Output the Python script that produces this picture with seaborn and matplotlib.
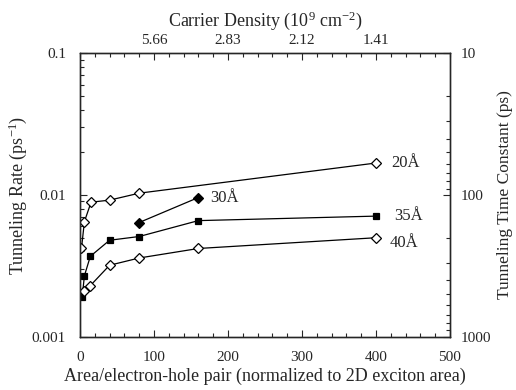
import matplotlib
matplotlib.use("Agg")
import matplotlib.pyplot as plt
import matplotlib.ticker as mticker
import seaborn as sns
import pandas as pd

# ---- data ----
x_20 = [2, 6, 15, 40, 80, 400]
y_20 = [0.0042, 0.0065, 0.0089, 0.0092, 0.0103, 0.0168]
x_35 = [3, 6, 14, 40, 80, 160, 400]
y_35 = [0.00192, 0.0027, 0.0037, 0.0048, 0.0051, 0.0066, 0.0071]
x_30 = [80, 160]
y_30 = [0.0064, 0.0096]
x_40 = [6, 14, 40, 80, 160, 400]
y_40 = [0.0021, 0.0023, 0.0032, 0.0036, 0.0042, 0.0050]

top_tick_pos = [100, 200, 300, 400]
top_tick_labels = ["5.66", "2.83", "2.12", "1.41"]

sns.set_style("ticks")
plt.rcParams['font.family'] = ['Liberation Serif', 'DejaVu Serif']
plt.rcParams['mathtext.fontset'] = 'custom'
plt.rcParams['mathtext.rm'] = 'Liberation Serif'
plt.rcParams['mathtext.it'] = 'Liberation Serif'
plt.rcParams['mathtext.default'] = 'rm'

fig = plt.figure(figsize=(5.16, 3.9), dpi=100)
ax = fig.add_axes([0.155, 0.136, 0.717, 0.728])

def draw(xs, ys, marker, face, size):
    df = pd.DataFrame({"x": xs, "y": ys})
    sns.lineplot(data=df, x="x", y="y", ax=ax, color="black", lw=0.9,
                 marker=marker, markersize=size, markerfacecolor=face,
                 markeredgecolor="black", markeredgewidth=0.9)

draw(x_20, y_20, "D", "white", 5.5)
draw(x_35, y_35, "s", "black", 5)
draw(x_30, y_30, "D", "black", 5.5)
draw(x_40, y_40, "D", "white", 5.5)

ax.set_yscale("log")
ax.set_xlim(0, 500)
ax.set_ylim(0.001, 0.1)
ax.set_xticks([0, 100, 200, 300, 400, 500])
ax.xaxis.set_minor_locator(mticker.MultipleLocator(20))
ax.set_yticks([0.001, 0.01, 0.1])
ax.set_yticklabels(["0.001", "0.01", "0.1"])
ax.yaxis.set_minor_locator(mticker.LogLocator(base=10, subs=range(2, 10)))
ax.yaxis.set_minor_formatter(mticker.NullFormatter())
ax.tick_params(which="both", direction="in", labelsize=11, width=0.8)
ax.tick_params(which="major", length=5)
ax.tick_params(which="minor", length=3)
ax.tick_params(axis="x", which="major", pad=10)
ax.tick_params(axis="y", which="major", pad=10)
ax.set_xlabel("Area/electron-hole pair (normalized to 2D exciton area)", fontsize=13, labelpad=3)
ax.set_ylabel("Tunneling Rate (ps$^{-1}$)", fontsize=13, labelpad=2)

fs = 12
ax.text(421, 0.0167, "20Å", fontsize=fs, va="center", ha="left")
ax.text(425, 0.0071, "35Å", fontsize=fs, va="center", ha="left")
ax.text(419, 0.0046, "40Å", fontsize=fs, va="center", ha="left")
ax.text(176, 0.0096, "30Å", fontsize=fs, va="center", ha="left")

# right axis: time constant
axr = ax.twinx()
axr.set_yscale("log")
axr.set_ylim(1000, 10)
axr.set_yticks([10, 100, 1000])
axr.set_yticklabels(["10", "100", "1000"])
axr.yaxis.set_minor_locator(mticker.LogLocator(base=10, subs=range(2, 10)))
axr.yaxis.set_minor_formatter(mticker.NullFormatter())
axr.tick_params(which="both", direction="in", labelsize=11, width=0.8)
axr.tick_params(which="major", length=5, pad=8)
axr.tick_params(which="minor", length=3)
axr.set_ylabel("Tunneling Time Constant (ps)", fontsize=12.5, labelpad=4)

# top axis: carrier density
axt = ax.twiny()
axt.set_xlim(0, 500)
axt.set_xticks(top_tick_pos)
axt.set_xticklabels(top_tick_labels)
axt.xaxis.set_minor_locator(mticker.MultipleLocator(20))
axt.tick_params(which="both", direction="in", labelsize=11, width=0.8)
axt.tick_params(which="major", length=5, pad=4)
axt.tick_params(which="minor", length=3)
axt.set_xlabel("Carrier Density (10$^{9}$ cm$^{-2}$)", fontsize=13, labelpad=6)

for a in (ax, axr, axt):
    for s in a.spines.values():
        s.set_linewidth(0.9)

fig.savefig("out.png", dpi=100)
